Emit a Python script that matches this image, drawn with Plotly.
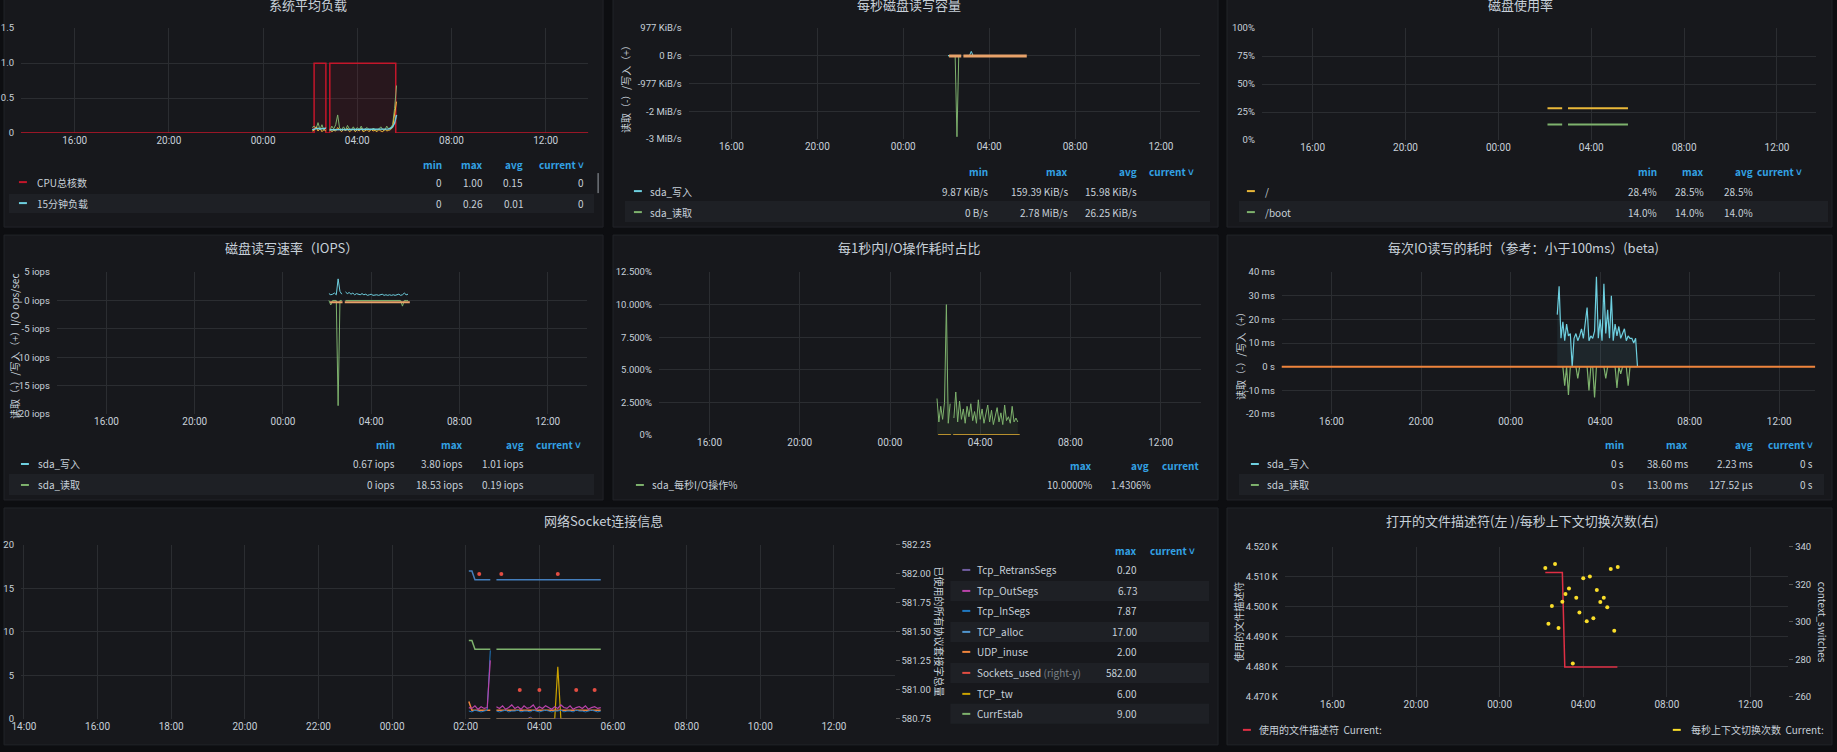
import plotly.graph_objects as go
import pandas as pd

W, H = 1837, 752
DY = 4.5      # 页面整体上移补偿
SY = 1.0144   # 竖向拉伸补偿
FONT = "Noto Sans CJK SC, Roboto, sans-serif"
TICKFONT = "Liberation Sans Narrow, Roboto, sans-serif"
TXT = "#c7d0d9"
GRID = "#2b2d31"
BLUE = "#33a2e5"

# 公共时间轴：活动时间段 02:05 - 05:40，每 5 分钟一个点
T = pd.date_range("2024-03-02 02:05", "2024-03-02 05:40", freq="5min")
BASE16 = pd.Timestamp("2024-03-01 16:00")

# ---- 系统平均负载 ----
cpu_t = ["2024-03-01 13:00", "2024-03-02 02:10", "2024-03-02 02:10", "2024-03-02 02:40",
         "2024-03-02 02:40", "2024-03-02 02:50", "2024-03-02 02:50", "2024-03-02 05:38",
         "2024-03-02 05:38", "2024-03-02 15:00"]
cpu_v = [0, 0, 1, 1, 0, 0, 1, 1, 0, 0]
load15 = [0.05, 0.06, 0.07, 0.07, 0.06, 0.06, 0.06, 0.07, None, 0.05, 0.05,
          0.06, 0.05, 0.06, 0.06, 0.05, 0.06, 0.05, 0.05, 0.06, 0.06, 0.05,
          0.05, 0.06, 0.05, 0.05, 0.06, 0.05, 0.05, 0.05, 0.06, 0.05, 0.05,
          0.05, 0.05, 0.06, 0.05, 0.05, 0.06, 0.06, 0.07, 0.09, 0.14, 0.26]
load5 = [0.08, 0.10, 0.06, 0.15, 0.05, 0.12, 0.04, 0.08, None, 0.03, 0.10,
         0.06, 0.12, 0.26, 0.07, 0.05, 0.09, 0.04, 0.11, 0.06, 0.05, 0.09,
         0.04, 0.08, 0.05, 0.10, 0.04, 0.06, 0.08, 0.05, 0.04, 0.07, 0.05,
         0.04, 0.06, 0.09, 0.05, 0.04, 0.10, 0.06, 0.08, 0.12, 0.35, 0.68]
load1 = [0.03, 0.04, 0.09, 0.03, 0.07, 0.02, 0.05, 0.03, None, 0.06, 0.02,
         0.04, 0.03, 0.08, 0.05, 0.02, 0.06, 0.03, 0.07, 0.02, 0.04, 0.06,
         0.02, 0.05, 0.03, 0.07, 0.02, 0.04, 0.05, 0.02, 0.06, 0.03, 0.04,
         0.02, 0.05, 0.03, 0.02, 0.06, 0.03, 0.04, 0.05, 0.08, 0.25, 0.45]

# ---- 每秒磁盘读写容量 (KiB/s) ----
disk_w = [12, 14, 10, 11, 13, 12, 11, 10, None, 12, 14,
          13, 12, 159, 11, 14, 12, 13, 11, 12, 15, 12,
          11, 13, 12, 14, 11, 12, 13, 12, 11, 14, 12,
          13, 12, 11, 12, 14, 13, 12, 11, 12, 13, 12]
disk_r = [0, 0, 0, 0, 0, -2847, 0, 0, None, 0, 0,
          0, 0, 0, 0, 0, 0, 0, 0, 0, 0, 0,
          0, 0, 0, 0, 0, 0, 0, 0, 0, 0, 0,
          0, 0, 0, 0, 0, 0, 0, 0, 0, 0, 0]
zero_t = ["2024-03-02 02:08", "2024-03-02 02:42", None, "2024-03-02 02:48", "2024-03-02 05:45"]
zero_v = [0, 0, None, 0, 0]

# ---- 磁盘使用率 ----
use_t = ["2024-03-02 02:07", "2024-03-02 02:45", None, "2024-03-02 03:00", "2024-03-02 05:35"]
use_root = [28.5, 28.5, None, 28.5, 28.5]
use_boot = [14.0, 14.0, None, 14.0, 14.0]

# ---- IOPS ----
iops_w = [1.2, 1.0, 1.1, 1.3, 1.0, 3.8, 1.6, 1.1, None, 1.5, 1.2,
          1.4, 1.1, 1.3, 1.0, 1.2, 1.1, 1.0, 1.2, 1.0, 1.1, 0.9,
          1.0, 1.1, 0.9, 1.0, 1.0, 0.9, 1.0, 1.1, 0.9, 1.0, 0.9,
          1.0, 0.9, 1.0, 0.9, 1.0, 1.1, 0.9, 1.0, 1.3, 1.0, 1.1]
iops_r = [0, -0.8, 0, 0, 0, -18.53, 0, 0, None, 0, 0,
          0, 0, 0, 0, 0, 0, 0, 0, 0, 0, 0,
          0, 0, 0, 0, 0, 0, 0, 0, 0, 0, 0,
          0, 0, 0, 0, 0, 0, 0, -1.0, 0, 0, 0]
iops_base = [-0.3, -0.3, None, -0.3, -0.3]

# ---- I/O 耗时占比 (%) ----
io_pct = [2.8, 1.0, 2.2, 1.2, 2.5, 10.0, 0.9, 2.4, None, 1.3, 3.3,
          1.0, 2.6, 1.2, 2.0, 0.9, 2.2, 1.4, 2.4, 1.1, 1.8, 0.9,
          2.7, 1.2, 2.0, 0.9, 1.6, 2.3, 1.0, 1.9, 0.8, 1.5, 2.1,
          1.0, 1.7, 0.8, 2.3, 1.1, 1.4, 0.9, 2.2, 1.0, 1.3, 1.0]

# ---- 每次IO耗时 (ms) ----
lat_w = [22, 34, 12, 19, 11, 18, 13, 14, 0, 12, 14,
         11, 13, 16, 12, 18, 25, 11, 13, 12, 15, 38,
         12, 20, 11, 35, 14, 24, 12, 30, 11, 18, 13,
         17, 12, 14, 16, 11, 13, 12, 12, 10, 12, 0]
lat_r = [0, 0, 0, 0, -8, 0, -12, 0, 0, 0, 0,
         -5, 0, 0, 0, 0, 0, -10, 0, 0, -13, 0,
         0, 0, 0, 0, -5, 0, 0, 0, 0, 0, -9,
         0, -3, 0, 0, 0, -8, 0, 0, 0, 0, 0]
full_t = ["2024-03-01 13:00", "2024-03-02 15:00"]
full_v = [0, 0]

# ---- 网络Socket ----
tcp_alloc = [17, 17, 16, 16, 16, 16, 16, 16, None, 16, 16,
             16, 16, 16, 16, 16, 16, 16, 16, 16, 16, 16,
             16, 16, 16, 16, 16, 16, 16, 16, 16, 16, 16,
             16, 16, 16, 16, 16, 16, 16, 16, 16, 16, 16]
curr_estab = [9, 9, 8, 8, 8, 8, 8, 8, None, 8, 8,
              8, 8, 8, 8, 8, 8, 8, 8, 8, 8, 8,
              8, 8, 8, 8, 8, 8, 8, 8, 8, 8, 8,
              8, 8, 8, 8, 8, 8, 8, 8, 8, 8, 8]
out_segs = [1.3, 1.2, 1.5, 1.1, 1.4, 1.2, 1.3, 6.73, None, 1.4, 1.2,
            1.5, 1.1, 1.3, 1.6, 1.2, 1.4, 1.1, 1.5, 1.2, 1.3, 1.6,
            1.1, 1.4, 1.2, 1.5, 1.3, 1.1, 1.4, 1.2, 1.6, 1.3, 1.2,
            1.5, 1.1, 1.3, 1.4, 1.2, 1.5, 1.1, 1.3, 1.4, 1.2, 1.3]
in_segs = [0.9, 0.8, 1.0, 0.9, 0.8, 0.9, 1.0, 7.87, None, 0.9, 0.8,
           0.9, 1.0, 0.8, 0.9, 0.9, 1.0, 0.8, 0.9, 0.9, 0.8, 1.0,
           0.9, 0.8, 0.9, 1.0, 0.9, 0.8, 0.9, 0.9, 1.0, 0.8, 0.9,
           0.9, 0.8, 1.0, 0.9, 0.9, 0.8, 0.9, 1.0, 0.9, 0.8, 0.9]
udp_inuse = [2, 1, 1, 1, 1, 1, 1, 1, None, 1, 1,
             1, 1, 1, 1, 1, 1, 1, 1, 1, 1, 1,
             1, 1, 1, 1, 1, 1, 1, 1, 1, 1, 1,
             1, 1, 1, 1, 1, 1, 1, 1, 1, 1, 1]
tcp_tw = [0, 0, 0, 0, 0, 0, 0, 0, None, 0, 0,
          0, 0, 0, 0, 0, 0, 0, 0, 0, 0, 0,
          0, 0, 0, 0, 0, 0, 0, 6, 0, 0, 0,
          0, 0, 0, 0, 0, 0, 0, 0, 0, 0, 0]
retrans = [0, 0, 0, 0, 0, 0, 0, 0, None, 0, 0,
           0, 0, 0, 0, 0, 0, 0, 0, 0, 0.2, 0,
           0, 0, 0, 0, 0, 0, 0, 0, 0, 0, 0,
           0, 0, 0, 0, 0, 0, 0, 0, 0, 0, 0]
sock_t = ["2024-03-02 02:22", "2024-03-02 02:58", "2024-03-02 04:30", "2024-03-02 03:28",
          "2024-03-02 04:00", "2024-03-02 05:00", "2024-03-02 05:30"]
sock_v = [582, 582, 582, 581, 581, 581, 581]

# ---- 文件描述符 / 上下文切换 ----
fd_t = ["2024-03-02 02:11", "2024-03-02 03:00", "2024-03-02 03:07", "2024-03-02 05:38"]
fd_v = [4511.5, 4511.5, 4480, 4480]
cs_t = ["02:11", "02:39", "02:20", "02:30", "02:49", "03:00", "03:09", "03:19", "03:30", "03:40", "03:49",
        "04:00", "04:10", "04:19", "04:29", "04:39", "04:49", "04:59", "05:09", "05:19", "05:29", "05:39"]
cs_v = [328.7, 330.9, 299.0, 308.5, 296.7, 310.8, 314.9, 317.8, 277.8, 312.9, 305.0,
        323.3, 300.3, 324.2, 302.0, 317.0, 310.6, 312.9, 307.8, 328.2, 295.3, 329.3]


def px(x):
    return x / W


def py(y):
    return 1 - (27 + (y - 27) * SY - DY) / H


def trange(p_a, p_b, hours, left, right, t_a):
    pxh = (p_b - p_a) / hours
    return [t_a + pd.Timedelta(hours=(left - p_a) / pxh), t_a + pd.Timedelta(hours=(right - p_a) / pxh)]


fig = go.Figure()
shapes, annos = [], []


def panel(x0, y0, x1, y1):
    shapes.append(dict(type="rect", xref="paper", yref="paper", x0=px(x0), x1=px(x1), y0=py(y1), y1=py(y0),
                       fillcolor="#17181c", line=dict(color="#222429", width=1), layer="below"))


def text(x, y, s, size=10, color=TXT, anchor="left", angle=0):
    annos.append(dict(xref="paper", yref="paper", x=px(x), y=py(y), text=s, showarrow=False,
                      xanchor=anchor, yanchor="middle", textangle=angle,
                      font=dict(family=FONT, size=size, color=color)))


def band(x0, x1, y0, y1):
    shapes.append(dict(type="rect", xref="paper", yref="paper", x0=px(x0), x1=px(x1), y0=py(y1), y1=py(y0),
                       fillcolor="#1e2025", line=dict(width=0), layer="below"))


def mark(x, y, color):
    shapes.append(dict(type="line", xref="paper", yref="paper", x0=px(x), x1=px(x + 8), y0=py(y), y1=py(y),
                       line=dict(color=color, width=2)))


def axes(n, x0, x1, y0, y1, xr, dtick_h, yr, yvals, ytext):
    fig.layout[f"xaxis{n}"] = dict(domain=[px(x0), px(x1)], anchor=f"y{n}", type="date", range=xr,
                                   tickformat="%H:%M", dtick=dtick_h * 3600000, tick0="2024-03-01 16:00",
                                   showgrid=True, gridcolor=GRID, zeroline=False, showline=False,
                                   tickfont=dict(size=10, color=TXT, family=TICKFONT), ticks="")
    fig.layout[f"yaxis{n}"] = dict(domain=[max(0, py(y1)), min(1, py(y0))], anchor=f"x{n}", range=yr,
                                   tickvals=yvals, ticktext=ytext, showgrid=True, gridcolor=GRID,
                                   zeroline=False, tickfont=dict(size=9.5, color=TXT, family=TICKFONT),
                                   ticks="outside", ticklen=4, tickcolor="#17181c")


def line(n, x, y, color, width=1.2, fill=None, fillcolor=None, mode="lines", yaxis=None):
    fig.add_trace(go.Scatter(x=x, y=y, mode=mode, line=dict(color=color, width=width), fill=fill,
                             fillcolor=fillcolor, marker=dict(color=color, size=4), connectgaps=False,
                             xaxis=f"x{n}", yaxis=yaxis or f"y{n}", showlegend=False, hoverinfo="skip"))


# ---------- panels ----------
for box in [(-5, -5, 597, 226), (607, -5, 1215, 226), (1224, -5, 1832, 226),
            (-5, 234, 597, 499), (607, 234, 1215, 499), (1224, 234, 1832, 499),
            (-5, 507, 1215, 744), (1224, 507, 1832, 744)]:
    panel(*box)

# 1 系统平均负载
axes(1, 12, 582, 27, 132, trange(66, 350, 12, 12, 582, BASE16), 4, [0, 1.5],
     [0, 0.5, 1.0, 1.5], ["0", "0.5", "1.0", "1.5"])
line(1, cpu_t, cpu_v, "#C4162A", 1.5, "tozeroy", "rgba(196,22,42,0.10)")
line(1, T, load5, "#7EB26D", 1)
line(1, T, load1, "#EAB839", 1)
line(1, T, load15, "#6ED0E0", 1.5)
text(300, 3, "系统平均负载", 13, anchor="center")
for x, s in [(437, "min"), (478, "max"), (519, "avg"), (580, "current ˅")]:
    text(x, 163, "<b>" + s + "</b>", 10, BLUE, "right")
band(0, 588, 193, 212)
for y, nm, c, vals in [(181, "CPU总核数", "#C4162A", ["0", "1.00", "0.15", "0"]),
                       (202, "15分钟负载", "#6ED0E0", ["0", "0.26", "0.01", "0"])]:
    mark(10, y, c)
    text(26, y, nm)
    for x, v in zip([437, 478, 519, 580], vals):
        text(x, y, v, anchor="right")
shapes.append(dict(type="line", xref="paper", yref="paper", x0=px(592), x1=px(592), y0=py(172), y1=py(192),
                   line=dict(color="#9aa0a6", width=1)))

# 2 每秒磁盘读写容量
axes(2, 683, 1197, 27, 138, trange(726, 985, 12, 683, 1197, BASE16), 4, [-2931, 977],
     [977, 0, -977, -1954, -2931], ["977 KiB/s", "0 B/s", "-977 KiB/s", "-2 MiB/s", "-3 MiB/s"])
line(2, T, disk_r, "#7EB26D", 1)
line(2, T, disk_w, "#6ED0E0", 1)
line(2, zero_t, zero_v, "#E8A26A", 3)
text(904, 3, "每秒磁盘读写容量", 13, anchor="center")
text(619, 85, "读取（-）/写入（+）", 10, angle=-90, anchor="center")
for x, s in [(986, "min"), (1066, "max"), (1136, "avg"), (1193, "current ˅")]:
    text(x, 170, "<b>" + s + "</b>", 10, BLUE, "right")
band(619, 1207, 200, 221)
for y, nm, c, vals in [(190, "sda_写入", "#6ED0E0", ["9.87 KiB/s", "159.39 KiB/s", "15.98 KiB/s"]),
                       (211, "sda_读取", "#7EB26D", ["0 B/s", "2.78 MiB/s", "26.25 KiB/s"])]:
    mark(628, y, c)
    text(642, y, nm)
    for x, v in zip([986, 1066, 1136], vals):
        text(x, y, v, anchor="right")

# 3 磁盘使用率
axes(3, 1259, 1816, 27, 139, trange(1310, 1590, 12, 1259, 1816, BASE16), 4, [0, 100],
     [0, 25, 50, 75, 100], ["0%", "25%", "50%", "75%", "100%"])
line(3, use_t, use_root, "#EAB839", 2)
line(3, use_t, use_boot, "#7EB26D", 2)
text(1519, 3, "磁盘使用率", 13, anchor="center")
for x, s in [(1658, "min"), (1705, "max"), (1755, "avg"), (1804, "current ˅")]:
    text(x, 170, "<b>" + s + "</b>", 10, BLUE, "right")
band(1236, 1828, 200, 221)
for y, nm, c, vals in [(190, "/", "#EAB839", ["28.4%", "28.5%", "28.5%"]),
                       (211, "/boot", "#7EB26D", ["14.0%", "14.0%", "14.0%"])]:
    mark(1244, y, c)
    text(1260, y, nm)
    for x, v in zip([1658, 1705, 1755], vals):
        text(x, y, v, anchor="right")

# 4 IOPS
axes(4, 48, 581, 271, 413, trange(98, 364, 12, 48, 581, BASE16), 4, [-20, 5],
     [5, 0, -5, -10, -15, -20], ["5 iops", "0 iops", "-5 iops", "-10 iops", "-15 iops", "-20 iops"])
line(4, T, iops_r, "#7EB26D", 1)
line(4, zero_t, iops_base, "#E8A26A", 2)
line(4, T, iops_w, "#6ED0E0", 1)
text(284, 246, "磁盘读写速率（IOPS）", 13, anchor="center")
text(5, 345, "读取（-）/写入（+）I/O ops/sec", 10, angle=-90, anchor="center")
for x, s in [(390, "min"), (458, "max"), (520, "avg"), (577, "current ˅")]:
    text(x, 444, "<b>" + s + "</b>", 10, BLUE, "right")
band(0, 588, 473, 494)
for y, nm, c, vals in [(463, "sda_写入", "#6ED0E0", ["0.67 iops", "3.80 iops", "1.01 iops"]),
                       (484, "sda_读取", "#7EB26D", ["0 iops", "18.53 iops", "0.19 iops"])]:
    mark(12, y, c)
    text(27, y, nm)
    for x, v in zip([390, 458, 520], vals):
        text(x, y, v, anchor="right")

# 5 I/O 耗时占比
axes(5, 653, 1198, 271, 434, trange(704, 976, 12, 653, 1198, BASE16), 4, [0, 12.5],
     [0, 2.5, 5, 7.5, 10, 12.5], ["0%", "2.500%", "5.000%", "7.500%", "10.000%", "12.500%"])
line(5, T, io_pct, "#7EB26D", 1, "tozeroy", "rgba(126,178,109,0.08)")
line(5, zero_t, zero_v, "#B8902E", 2)
text(905, 246, "每1秒内I/O操作耗时占比", 13, anchor="center")
for x, s in [(1090, "max"), (1148, "avg"), (1198, "current")]:
    text(x, 465, "<b>" + s + "</b>", 10, BLUE, "right")
mark(630, 484, "#7EB26D")
text(644, 484, "sda_每秒I/O操作%")
text(1090, 484, "10.0000%", anchor="right")
text(1150, 484, "1.4306%", anchor="right")

# 6 每次IO耗时
axes(6, 1279, 1815, 271, 413, trange(1329, 1599, 12, 1279, 1815, BASE16), 4, [-20, 40],
     [40, 30, 20, 10, 0, -10, -20], ["40 ms", "30 ms", "20 ms", "10 ms", "0 s", "-10 ms", "-20 ms"])
line(6, T, lat_w, "#6ED0E0", 1.2, "tozeroy", "rgba(110,208,224,0.08)")
line(6, T, lat_r, "#7EB26D", 1.2)
line(6, full_t, full_v, "#EF843C", 2)
text(1522, 246, "每次IO读写的耗时（参考：小于100ms）(beta)", 13, anchor="center")
text(1237, 352, "读取（-）/写入（+）", 10, angle=-90, anchor="center")
for x, s in [(1625, "min"), (1689, "max"), (1755, "avg"), (1815, "current ˅")]:
    text(x, 444, "<b>" + s + "</b>", 10, BLUE, "right")
band(1236, 1824, 473, 494)
for y, nm, c, vals in [(463, "sda_写入", "#6ED0E0", ["0 s", "38.60 ms", "2.23 ms", "0 s"]),
                       (484, "sda_读取", "#7EB26D", ["0 s", "13.00 ms", "127.52 µs", "0 s"])]:
    mark(1248, y, c)
    text(1262, y, nm)
    for x, v in zip([1625, 1689, 1755, 1815], vals):
        text(x, y, v, anchor="right")

# 7 网络Socket连接信息
BASE02 = pd.Timestamp("2024-03-02 02:00")
axes(7, 12, 890, 544, 718, trange(459, 533, 2, 12, 890, BASE02), 2, [0, 20],
     [0, 5, 10, 15, 20], ["0", "5", "10", "15", "20"])
fig.layout["yaxis8"] = dict(overlaying="y7", side="right", anchor="x7", range=[580.75, 582.25],
                            tickvals=[580.75, 581, 581.25, 581.5, 581.75, 582, 582.25],
                            ticktext=["580.75", "581.00", "581.25", "581.50", "581.75", "582.00", "582.25"],
                            showgrid=False, zeroline=False, ticks="outside", ticklen=4, tickcolor="#555",
                            tickfont=dict(size=9.5, color=TXT, family=TICKFONT))
line(7, T, tcp_tw, "#CCA300", 1.2)
line(7, T, udp_inuse, "#EF843C", 1.5)
line(7, T, retrans, "#705DA0", 1)
line(7, T, in_segs, "#1F78C1", 1)
line(7, T, out_segs, "#BA43A9", 1.2)
line(7, T, curr_estab, "#7EB26D", 1.5)
line(7, T, tcp_alloc, "#447EBC", 1.5)
line(7, sock_t, sock_v, "#E24D42", mode="markers", yaxis="y8")
text(597, 520, "网络Socket连接信息", 13, anchor="center")
text(935, 631, "已使用的所有协议套接字总量", 10, angle=90, anchor="center")
text(1136, 550, "<b>max</b>", 10, BLUE, "right")
text(1194, 550, "<b>current ˅</b>", 10, BLUE, "right")
rows7 = [("Tcp_RetransSegs", "#705DA0", "0.20"), ("Tcp_OutSegs", "#BA43A9", "6.73"),
         ("Tcp_InSegs", "#1F78C1", "7.87"), ("TCP_alloc", "#5195CE", "17.00"),
         ("UDP_inuse", "#EF843C", "2.00"), ("Sockets_used <span style='color:#7b8087'>(right-y)</span>", "#E24D42", "582.00"),
         ("TCP_tw", "#CCA300", "6.00"), ("CurrEstab", "#7EB26D", "9.00")]
ys7 = [569, 590, 610, 631, 651, 672, 693, 713]
for i, ((nm, c, v), y) in enumerate(zip(rows7, ys7)):
    if i % 2 == 1:
        band(946, 1206, y - 10, y + 10)
    mark(958, y, c)
    text(971, y, nm)
    text(1136, y, v, anchor="right")

# 8 文件描述符 / 上下文切换
axes(9, 1282, 1788, 546, 696, trange(1330, 1582, 12, 1282, 1788, BASE16), 4, [4470, 4520],
     [4470, 4480, 4490, 4500, 4510, 4520], ["4.470 K", "4.480 K", "4.490 K", "4.500 K", "4.510 K", "4.520 K"])
fig.layout["yaxis10"] = dict(overlaying="y9", side="right", anchor="x9", range=[260, 340],
                             tickvals=[260, 280, 300, 320, 340], showgrid=False, zeroline=False,
                             ticks="outside", ticklen=4, tickcolor="#555",
                             tickfont=dict(size=9.5, color=TXT, family=TICKFONT))
line(9, fd_t, fd_v, "#E02F44", 1.5)
line(9, ["2024-03-02 " + t for t in cs_t], cs_v, "#FADE2A", mode="markers", yaxis="y10")
text(1521, 520, "打开的文件描述符(左 )/每秒上下文切换次数(右)", 13, anchor="center")
text(1236, 621, "使用的文件描述符", 10, angle=-90, anchor="center")
text(1822, 621, "context_switches", 10, angle=90, anchor="center")
mark(1240, 729, "#E02F44")
text(1254, 729, "使用的文件描述符  Current:")
mark(1672, 729, "#FADE2A")
text(1826, 729, "每秒上下文切换次数  Current:", anchor="right")

fig.update_layout(width=W, height=H, margin=dict(l=0, r=0, t=0, b=0),
                  paper_bgcolor="#0d0e11", plot_bgcolor="rgba(0,0,0,0)",
                  shapes=shapes, annotations=annos, showlegend=False,
                  font=dict(family=FONT, color=TXT))
fig.write_html("out.html", config={"displayModeBar": False},
               post_script="document.body.style.margin='0';document.body.style.overflow='hidden';")
